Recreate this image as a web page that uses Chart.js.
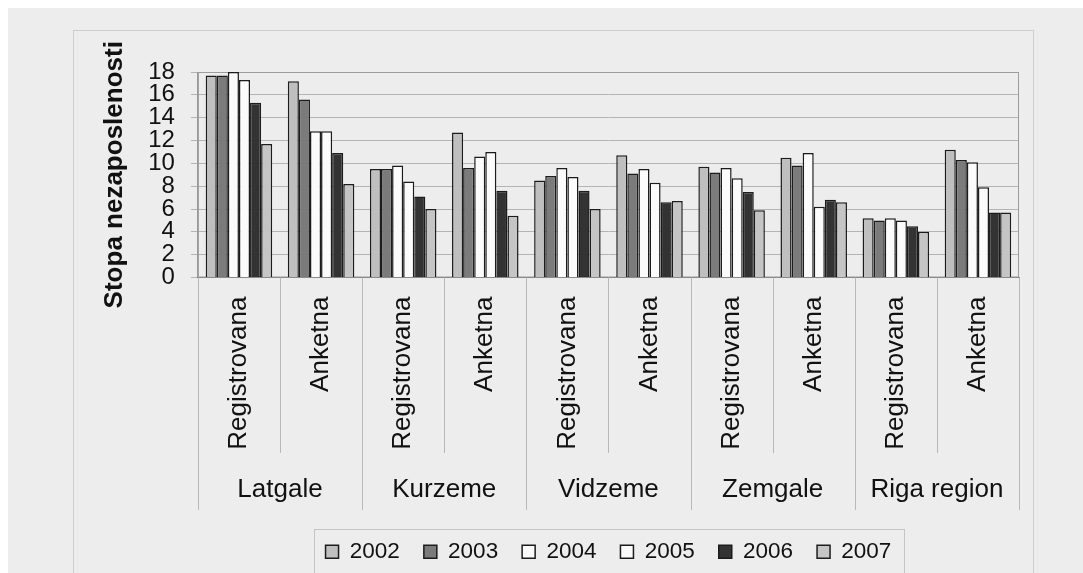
<!DOCTYPE html>
<html><head><meta charset="utf-8">
<script src="https://cdn.jsdelivr.net/npm/chart.js@4/dist/chart.umd.min.js"></script>
<style>
html,body{margin:0;padding:0;background:#fff;}
body{width:1083px;height:573px;overflow:hidden;position:relative;}
#page{position:absolute;left:8px;top:8px;width:1075px;height:565px;background:#ededed;}
#frame{position:absolute;left:73px;top:30px;width:961px;height:560px;border:1px solid #cdcdcd;box-sizing:border-box;}
#wrap{position:absolute;left:73px;top:30px;width:960px;height:543px;}
</style></head><body>
<div id="page"></div><div id="frame"></div>
<div id="wrap"><canvas id="c" width="960" height="543"></canvas></div>
<script>
const categories = ['Registrovana','Anketna','Registrovana','Anketna','Registrovana','Anketna','Registrovana','Anketna','Registrovana','Anketna'];
const regions = ['Latgale','Kurzeme','Vidzeme','Zemgale','Riga region'];
const years = ['2002','2003','2004','2005','2006','2007'];
const v2002 = [17.7, 17.2, 9.5, 12.7, 8.5, 10.7, 9.7, 10.5, 5.2, 11.2];
const v2003 = [17.7, 15.6, 9.5, 9.6, 8.9, 9.1, 9.2, 9.8, 5.0, 10.3];
const v2004 = [18.0, 12.8, 9.8, 10.6, 9.6, 9.5, 9.6, 10.9, 5.2, 10.1];
const v2005 = [17.3, 12.8, 8.4, 11.0, 8.8, 8.3, 8.7, 6.2, 5.0, 7.9];
const v2006 = [15.3, 10.9, 7.1, 7.6, 7.6, 6.6, 7.5, 6.8, 4.5, 5.7];
const v2007 = [11.7, 8.2, 6.0, 5.4, 6.0, 6.7, 5.9, 6.6, 4.0, 5.7];
const yTicks = [0,2,4,6,8,10,12,14,16,18];
const yTitle = 'Stopa nezaposlenosti';

const seriesValues = [v2002, v2003, v2004, v2005, v2006, v2007];
const fills = ['#bfbfbf','#7b7b7b','#fbfbfb','#fbfbfb','#333333','#c5c5c5'];
const FONT = '"Liberation Sans", Arial, sans-serif';

const deco = {
  id: 'deco',
  beforeDatasetsDraw(chart) {
    const {ctx, chartArea: a} = chart;
    ctx.save();
    ctx.strokeStyle = '#9c9c9c';
    ctx.lineWidth = 1;
    ctx.strokeRect(a.left + 0.5, a.top + 0.5, a.width - 1, a.height - 1);
    ctx.restore();
  },
  afterDraw(chart) {
    const {ctx, chartArea: a} = chart;
    const xs = chart.scales.x;
    const w = xs.getPixelForValue(1) - xs.getPixelForValue(0);
    const x0 = xs.getPixelForValue(0) - w / 2;
    ctx.save();
    ctx.strokeStyle = '#b8b8b8';
    ctx.lineWidth = 1;
    for (let i = 0; i <= categories.length; i++) {
      const x = Math.round(x0 + i * w) + 0.5;
      const yEnd = (i % 2 === 0) ? 480 : 423;
      ctx.beginPath();
      ctx.moveTo(x, a.bottom);
      ctx.lineTo(x, yEnd);
      ctx.stroke();
    }
    const lg = chart.legend;
    const hb = lg.legendHitBoxes;
    if (hb && hb.length) {
      let l = Infinity, r = -Infinity, cy = 0;
      hb.forEach(h => { l = Math.min(l, h.left); r = Math.max(r, h.left + h.width); cy = h.top + h.height / 2; });
      ctx.strokeStyle = '#c4c4c4';
      ctx.strokeRect(Math.round(l - 12) + 0.5, Math.round(cy - 23) + 0.5, Math.round(r - l + 24), 46);
    }
    ctx.restore();
  }
};

new Chart(document.getElementById('c'), {
  type: 'bar',
  data: {
    labels: categories,
    datasets: years.map((y, i) => ({
      label: y,
      data: seriesValues[i],
      backgroundColor: fills[i],
      borderColor: '#1c1c1c',
      borderWidth: 1.5,
      borderSkipped: 'bottom',
      categoryPercentage: 0.81,
      barPercentage: 1.0,
      xAxisID: 'x',
      yAxisID: 'y'
    }))
  },
  options: {
    responsive: false,
    animation: false,
    devicePixelRatio: 1,
    layout: { padding: { left: 24, right: 14, top: 42, bottom: 0 } },
    plugins: {
      legend: {
        position: 'bottom',
        fullSize: false,
        labels: {
          boxWidth: 13, boxHeight: 13, padding: 24,
          color: '#111', font: { family: FONT, size: 22.5 }
        }
      },
      tooltip: { enabled: false }
    },
    scales: {
      y: {
        position: 'left',
        min: 0, max: 18,
        afterBuildTicks(s) { s.ticks = yTicks.map(v => ({ value: v })); },
        ticks: { color: '#111', font: { family: FONT, size: 24 }, padding: 16, autoSkip: false },
        grid: { color: '#b4b4b4', tickLength: 7, drawTicks: true },
        border: { display: true, color: '#999' },
        title: { display: true, text: yTitle, color: '#111',
                 font: { family: FONT, size: 26, weight: 'bold' }, padding: { top: 2, bottom: 2 } }
      },
      x: {
        position: 'bottom',
        weight: 0,
        offset: true,
        grid: { display: false, drawTicks: false },
        border: { display: true, color: '#777' },
        ticks: { color: '#111', font: { family: FONT, size: 26 }, minRotation: 90, maxRotation: 90, padding: 19, autoSkip: false },
        afterFit(s) { s.height = 179; }
      },
      xr: {
        type: 'category',
        labels: regions,
        position: 'bottom',
        weight: 1,
        offset: true,
        grid: { display: false, drawTicks: false },
        border: { display: false },
        ticks: { color: '#111', font: { family: FONT, size: 26 }, padding: 18, autoSkip: false },
        afterFit(s) { s.height = 60; }
      }
    }
  },
  plugins: [deco]
});
</script>
</body></html>
